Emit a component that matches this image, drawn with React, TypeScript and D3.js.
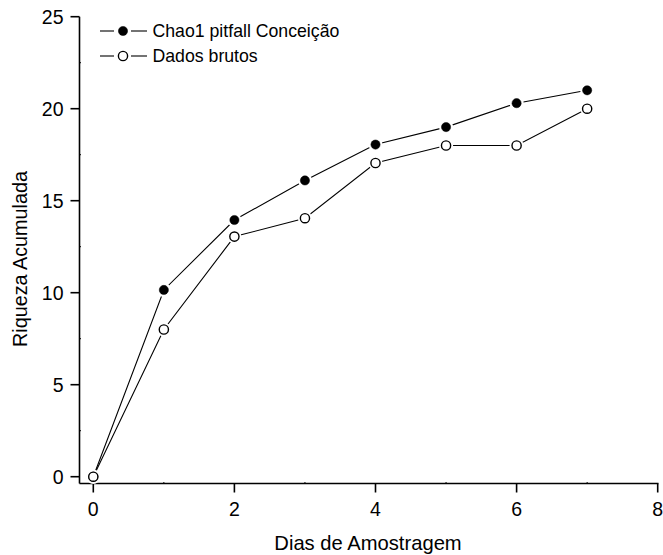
import React from "react";
import * as d3 from "d3";

const days = [0, 1, 2, 3, 4, 5, 6, 7];
const chao1 = [0, 10.15, 13.95, 16.1, 18.05, 19.0, 20.3, 21.0];
const rawData = [0, 8, 13.05, 14.05, 17.05, 18.0, 18.0, 20.0];
const xTicks = [0, 2, 4, 6, 8];
const yTicks = [0, 5, 10, 15, 20, 25];
const seriesNames = ["Chao1 pitfall Conceição", "Dados brutos"];

const W = 663;
const H = 555;
const FONT = "'Liberation Sans', Arial, sans-serif";

export default function App() {
  const x = d3.scaleLinear().domain([0, 8]).range([93.3, 657.7]);
  const y = d3.scaleLinear().domain([0, 25]).range([476.7, 16.7]);
  const axisY = 483.5;
  const axisX = 79.5;
  const line = d3
    .line<number>()
    .x((_, i) => x(days[i]))
    .y((d) => y(d));

  const series = [
    { values: chao1, filled: true },
    { values: rawData, filled: false },
  ];

  const minorX = [1, 3, 5, 7];
  const minorY = [2.5, 7.5, 12.5, 17.5, 22.5];

  return (
    <svg
      width={W}
      height={H}
      style={{ position: "absolute", left: 0, top: 0, background: "#fff" }}
      fontFamily={FONT}
    >
      {/* axes */}
      <line x1={axisX} x2={axisX} y1={y(25)} y2={axisY} stroke="#000" strokeWidth={1.6} />
      <line x1={axisX} x2={x(8) + 0.8} y1={axisY} y2={axisY} stroke="#000" strokeWidth={1.6} />
      {yTicks.map((t) => (
        <g key={"y" + t}>
          <line x1={axisX - 9} x2={axisX} y1={y(t)} y2={y(t)} stroke="#000" strokeWidth={1.6} />
          <text x={63.5} y={y(t)} dy="0.36em" textAnchor="end" fontSize={19.5}>
            {t}
          </text>
        </g>
      ))}
      {minorY.map((t) => (
        <line key={"my" + t} x1={axisX} x2={axisX + 1.5} y1={y(t)} y2={y(t)} stroke="#000" strokeWidth={1} />
      ))}
      {xTicks.map((t) => (
        <g key={"x" + t}>
          <line x1={x(t)} x2={x(t)} y1={axisY} y2={axisY + 9} stroke="#000" strokeWidth={1.6} />
          <text x={x(t)} y={515.7} textAnchor="middle" fontSize={19.5}>
            {t}
          </text>
        </g>
      ))}
      {minorX.map((t) => (
        <line key={"mx" + t} x1={x(t)} x2={x(t)} y1={axisY} y2={axisY - 1.5} stroke="#000" strokeWidth={1} />
      ))}

      {/* axis titles */}
      <text x={368} y={550} textAnchor="middle" fontSize={20.2}>
        Dias de Amostragem
      </text>
      <text
        transform={`translate(26.7, 259) rotate(-90)`}
        textAnchor="middle"
        fontSize={19.8}
      >
        Riqueza Acumulada
      </text>

      {/* series lines */}
      {series.map((s, i) => (
        <path key={"l" + i} d={line(s.values) || ""} fill="none" stroke="#000" strokeWidth={1.1} />
      ))}
      {/* white halo behind each marker leaves a small gap in the line */}
      {series.map((s, i) =>
        s.values.map((v, j) => (
          <circle key={"h" + i + "-" + j} cx={x(days[j])} cy={y(v)} r={7} fill="#fff" />
        ))
      )}
      {series.map((s, i) =>
        s.values.map((v, j) => (
          <circle
            key={"p" + i + "-" + j}
            cx={x(days[j])}
            cy={y(v)}
            r={4.6}
            fill={s.filled ? "#000" : "#fff"}
            stroke="#000"
            strokeWidth={s.filled ? 0.5 : 1.4}
          />
        ))
      )}

      {/* legend */}
      {seriesNames.map((name, i) => {
        const ly = 31 + i * 25;
        const filled = i === 0;
        return (
          <g key={"lg" + i}>
            <line x1={100} x2={114} y1={ly} y2={ly} stroke="#000" strokeWidth={1.1} />
            <line x1={131} x2={147} y1={ly} y2={ly} stroke="#000" strokeWidth={1.1} />
            <circle
              cx={123}
              cy={ly}
              r={4.6}
              fill={filled ? "#000" : "#fff"}
              stroke="#000"
              strokeWidth={filled ? 0.5 : 1.4}
            />
            <text x={152.5} y={ly} dy="0.36em" fontSize={17.7}>
              {name}
            </text>
          </g>
        );
      })}
    </svg>
  );
}
